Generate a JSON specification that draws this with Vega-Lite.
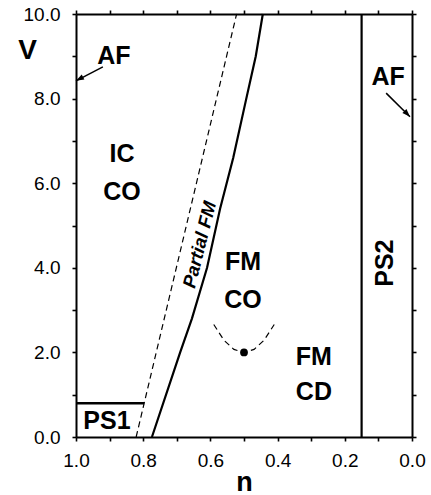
{
  "$schema": "https://vega.github.io/schema/vega-lite/v6.json",
  "width": 336,
  "height": 423,
  "autosize": {"type": "none"},
  "padding": {"left": 76, "top": 14, "right": 19, "bottom": 58},
  "config": {
    "view": {"stroke": null},
    "font": "Liberation Sans",
    "axis": {
      "grid": false,
      "ticks": true,
      "tickSize": 4,
      "tickWidth": 1.6,
      "tickColor": "black",
      "domainColor": "black",
      "domainWidth": 2,
      "labelColor": "black",
      "labelFont": "Liberation Sans",
      "labelFontSize": 19,
      "labelFontWeight": "normal",
      "titleColor": "black",
      "titleFont": "Liberation Sans",
      "titleFontWeight": "bold"
    }
  },
  "datasets": {
    "fullFM": [
      {"n": 0.774, "V": 0.0},
      {"n": 0.69, "V": 2.0},
      {"n": 0.655, "V": 2.8},
      {"n": 0.61, "V": 4.0},
      {"n": 0.571, "V": 5.4},
      {"n": 0.532, "V": 6.6},
      {"n": 0.494, "V": 7.97},
      {"n": 0.465, "V": 9.0},
      {"n": 0.444, "V": 10.0}
    ],
    "partialFM": [
      {"n": 0.821, "V": 0.0},
      {"n": 0.522, "V": 10.0}
    ],
    "ps2": [
      {"n": 0.15, "V": 0.0, "V2": 10.0}
    ],
    "ps1": [
      {"n": 1.0, "n2": 0.797, "V": 0.8}
    ],
    "well": [
      {"n": 0.59, "V": 2.66},
      {"n": 0.56, "V": 2.29},
      {"n": 0.53, "V": 2.07},
      {"n": 0.5, "V": 2.0},
      {"n": 0.47, "V": 2.07},
      {"n": 0.44, "V": 2.29},
      {"n": 0.41, "V": 2.66}
    ],
    "minimum": [
      {"n": 0.5, "V": 2.0}
    ],
    "arrowL": [
      {"n": 0.92, "V": 8.75},
      {"n": 1.0, "V": 8.42}
    ],
    "arrowR": [
      {"n": 0.077, "V": 8.13},
      {"n": 0.006, "V": 7.57}
    ],
    "regions": [
      {"n": 0.887, "V": 9.0, "label": "AF"},
      {"n": 0.071, "V": 8.5, "label": "AF"},
      {"n": 0.863, "V": 6.7, "label": "IC"},
      {"n": 0.863, "V": 5.8, "label": "CO"},
      {"n": 0.503, "V": 4.14, "label": "FM"},
      {"n": 0.503, "V": 3.24, "label": "CO"},
      {"n": 0.292, "V": 1.88, "label": "FM"},
      {"n": 0.292, "V": 1.06, "label": "CD"},
      {"n": 0.908, "V": 0.38, "label": "PS1"}
    ],
    "ps2label": [
      {"n": 0.08, "V": 4.11, "label": "PS2"}
    ],
    "partialLabel": [
      {"n": 0.632, "V": 4.55, "label": "Partial  FM"}
    ]
  },
  "resolve": {"axis": {"x": "independent", "y": "independent"}},
  "layer": [
    {
      "data": {"name": "fullFM"},
      "mark": {"type": "line", "color": "black", "strokeWidth": 2.2},
      "encoding": {
        "x": {
          "field": "n", "type": "quantitative",
          "scale": {"domain": [0, 1], "reverse": true, "nice": false, "zero": false},
          "axis": {
            "orient": "bottom",
            "values": [0, 0.1, 0.2, 0.3, 0.4, 0.5, 0.6, 0.7, 0.8, 0.9, 1.0],
            "labelExpr": "round(datum.value * 10) % 2 == 0 ? format(datum.value, '.1f') : ''",
            "labelPadding": 10,
            "labelFlush": false,
            "labelOverlap": false,
            "title": "n",
            "titleFontSize": 27,
            "titleX": 168,
            "titleY": 53,
            "titleBaseline": "alphabetic",
            "titleAlign": "center"
          }
        },
        "y": {
          "field": "V", "type": "quantitative",
          "scale": {"domain": [0, 10], "nice": false, "zero": false},
          "axis": {
            "orient": "left",
            "values": [0, 1, 2, 3, 4, 5, 6, 7, 8, 9, 10],
            "labelExpr": "datum.value % 2 == 0 ? format(datum.value, '.1f') : ''",
            "labelPadding": 12,
            "labelFlush": false,
            "labelOverlap": false,
            "title": "V",
            "titleFontSize": 28,
            "titleAngle": 0,
            "titleX": -49,
            "titleY": 36,
            "titleBaseline": "middle",
            "titleAlign": "center"
          }
        },
        "order": {"field": "V", "type": "quantitative"}
      }
    },
    {
      "data": {"name": "partialFM"},
      "mark": {"type": "line", "color": "black", "strokeWidth": 1.2, "strokeDash": [6, 4]},
      "encoding": {
        "x": {
          "field": "n", "type": "quantitative",
          "axis": {
            "orient": "top",
            "values": [0, 0.1, 0.2, 0.3, 0.4, 0.5, 0.6, 0.7, 0.8, 0.9, 1.0],
            "labels": false,
            "title": null
          }
        },
        "y": {
          "field": "V", "type": "quantitative",
          "axis": {
            "orient": "right",
            "values": [0, 1, 2, 3, 4, 5, 6, 7, 8, 9, 10],
            "labels": false,
            "title": null
          }
        }
      }
    },
    {
      "data": {"name": "ps2"},
      "mark": {"type": "rule", "color": "black", "strokeWidth": 2.2},
      "encoding": {
        "x": {"field": "n", "type": "quantitative", "axis": null},
        "y": {"field": "V", "type": "quantitative", "axis": null},
        "y2": {"field": "V2"}
      }
    },
    {
      "data": {"name": "ps1"},
      "mark": {"type": "rule", "color": "black", "strokeWidth": 2.5},
      "encoding": {
        "x": {"field": "n", "type": "quantitative", "axis": null},
        "x2": {"field": "n2"},
        "y": {"field": "V", "type": "quantitative", "axis": null}
      }
    },
    {
      "data": {"name": "well"},
      "mark": {"type": "line", "color": "black", "strokeWidth": 1.2, "strokeDash": [6, 4]},
      "encoding": {
        "x": {"field": "n", "type": "quantitative", "axis": null},
        "y": {"field": "V", "type": "quantitative", "axis": null}
      }
    },
    {
      "data": {"name": "minimum"},
      "mark": {"type": "point", "filled": true, "color": "black", "size": 60, "opacity": 1},
      "encoding": {
        "x": {"field": "n", "type": "quantitative", "axis": null},
        "y": {"field": "V", "type": "quantitative", "axis": null}
      }
    },
    {
      "data": {"name": "arrowL"},
      "mark": {"type": "line", "color": "black", "strokeWidth": 1.5},
      "encoding": {
        "x": {"field": "n", "type": "quantitative", "axis": null},
        "y": {"field": "V", "type": "quantitative", "axis": null}
      }
    },
    {
      "data": {"name": "arrowL"},
      "transform": [{"filter": "datum.n == 1.0"}],
      "mark": {"type": "point", "shape": "M0,0L-0.5,1.4L0.5,1.4Z", "filled": true, "color": "black", "size": 130, "angle": 242, "opacity": 1},
      "encoding": {
        "x": {"field": "n", "type": "quantitative", "axis": null},
        "y": {"field": "V", "type": "quantitative", "axis": null}
      }
    },
    {
      "data": {"name": "arrowR"},
      "mark": {"type": "line", "color": "black", "strokeWidth": 1.5},
      "encoding": {
        "x": {"field": "n", "type": "quantitative", "axis": null},
        "y": {"field": "V", "type": "quantitative", "axis": null}
      }
    },
    {
      "data": {"name": "arrowR"},
      "transform": [{"filter": "datum.n < 0.05"}],
      "mark": {"type": "point", "shape": "M0,0L-0.5,1.4L0.5,1.4Z", "filled": true, "color": "black", "size": 130, "angle": 136, "opacity": 1},
      "encoding": {
        "x": {"field": "n", "type": "quantitative", "axis": null},
        "y": {"field": "V", "type": "quantitative", "axis": null}
      }
    },
    {
      "data": {"name": "regions"},
      "mark": {"type": "text", "font": "Liberation Sans", "fontWeight": "bold", "fontSize": 25, "color": "black", "align": "center", "baseline": "middle"},
      "encoding": {
        "x": {"field": "n", "type": "quantitative", "axis": null},
        "y": {"field": "V", "type": "quantitative", "axis": null},
        "text": {"field": "label"}
      }
    },
    {
      "data": {"name": "ps2label"},
      "mark": {"type": "text", "font": "Liberation Sans", "fontWeight": "bold", "fontSize": 25, "color": "black", "align": "center", "baseline": "middle", "angle": 270},
      "encoding": {
        "x": {"field": "n", "type": "quantitative", "axis": null},
        "y": {"field": "V", "type": "quantitative", "axis": null},
        "text": {"field": "label"}
      }
    },
    {
      "data": {"name": "partialLabel"},
      "mark": {"type": "text", "font": "Liberation Sans", "fontWeight": "bold", "fontStyle": "italic", "fontSize": 18.5, "color": "black", "align": "center", "baseline": "middle", "angle": 284},
      "encoding": {
        "x": {"field": "n", "type": "quantitative", "axis": null},
        "y": {"field": "V", "type": "quantitative", "axis": null},
        "text": {"field": "label"}
      }
    }
  ]
}
